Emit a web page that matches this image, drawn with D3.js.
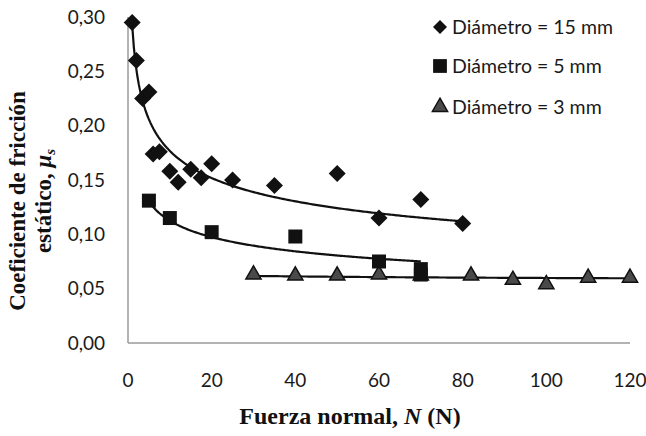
<!DOCTYPE html>
<html>
<head>
<meta charset="utf-8">
<script src="https://cdn.jsdelivr.net/npm/d3@7"></script>
<style>
  html, body { margin: 0; padding: 0; background: #fff; }
  svg { display: block; }
</style>
</head>
<body>
<div id="chart"></div>
<script>
// data
const seriesNames = ["Diámetro = 15 mm", "Diámetro = 5 mm", "Diámetro = 3 mm"];

const force15 = [1, 2, 3.5, 5, 6, 7.5, 10, 12, 15, 17.5, 20, 25, 35, 50, 60, 70, 80];
const mu15 = [0.295, 0.26, 0.225, 0.231, 0.174, 0.176, 0.158, 0.148, 0.16, 0.152, 0.165, 0.15, 0.145, 0.156, 0.115, 0.132, 0.11];

const force5 = [5, 10, 20, 40, 60, 70, 70];
const mu5 = [0.131, 0.115, 0.102, 0.098, 0.075, 0.068, 0.063];

const force3 = [30, 40, 50, 60, 70, 82, 92, 100, 110, 120];
const mu3 = [0.063, 0.062, 0.062, 0.063, 0.062, 0.062, 0.058, 0.054, 0.06, 0.06];

// power trendlines y = a * x^b (coefficients)
const trendA = [0.293, 0.1817, 0.0675];
const trendB = [-0.2195, -0.208, -0.0262];
const trendRange = [[1, 80], [5, 70], [30, 120]];

const xTicks = [0, 20, 40, 60, 80, 100, 120];
const yTicks = [0, 0.05, 0.10, 0.15, 0.20, 0.25, 0.30];

const width = 646;
const height = 436;

const svg = d3.select("#chart").append("svg")
  .attr("width", width)
  .attr("height", height);

const x = d3.scaleLinear().domain([0, 120]).range([128, 630]);
const y = d3.scaleLinear().domain([0, 0.30]).range([343, 17]);

const fmt = (v) => d3.format(".2f")(v).replace(".", ",");
const sans = "Lato, 'Open Sans', sans-serif";
const serif = "'Liberation Serif', 'Times New Roman', serif";

// axes lines (no ticks)
svg.append("line")
  .attr("x1", x(0)).attr("x2", x(0))
  .attr("y1", y(0.30)).attr("y2", y(0))
  .attr("stroke", "#9a9a9a").attr("stroke-width", 1.5);
svg.append("line")
  .attr("x1", x(0)).attr("x2", x(120))
  .attr("y1", y(0)).attr("y2", y(0))
  .attr("stroke", "#9a9a9a").attr("stroke-width", 1.5);

svg.append("g")
  .selectAll("text")
  .data(yTicks)
  .enter()
  .append("text")
  .attr("x", 105)
  .attr("y", (d) => y(d))
  .attr("dy", "0.35em")
  .attr("text-anchor", "end")
  .style("font-family", sans)
  .style("font-size", "19px")
  .style("fill", "#1a1a1a")
  .text(fmt);

svg.append("g")
  .selectAll("text")
  .data(xTicks)
  .enter()
  .append("text")
  .attr("x", (d) => x(d))
  .attr("y", 380)
  .attr("dy", "0.35em")
  .attr("text-anchor", "middle")
  .style("font-family", sans)
  .style("font-size", "19px")
  .style("fill", "#1a1a1a")
  .text((d) => d);

// axis titles
const xTitle = svg.append("text")
  .attr("x", 350)
  .attr("y", 424)
  .attr("text-anchor", "middle")
  .style("font-family", serif)
  .style("font-weight", "bold")
  .style("font-size", "24px")
  .style("fill", "#111");
xTitle.append("tspan").text("Fuerza normal, ");
xTitle.append("tspan").style("font-style", "italic").text("N");
xTitle.append("tspan").text(" (N)");

const yTitle = svg.append("g")
  .attr("transform", "translate(0,201) rotate(-90)")
  .style("font-family", serif)
  .style("font-weight", "bold")
  .style("font-size", "23px")
  .style("fill", "#111");
yTitle.append("text")
  .attr("x", 0).attr("y", 25)
  .attr("text-anchor", "middle")
  .text("Coeficiente de fricción");
const yt2 = yTitle.append("text")
  .attr("x", 0).attr("y", 51)
  .attr("text-anchor", "middle");
yt2.append("tspan").text("estático, ");
yt2.append("tspan").style("font-style", "italic").text("μ");
yt2.append("tspan").style("font-style", "italic").style("font-size", "15px").attr("dy", 4).text("s");

// marker shapes
function diamond(r) {
  return `M0,${-r}L${r},0L0,${r}L${-r},0Z`;
}
const squarePath = d3.symbol().type(d3.symbolSquare).size(196)();
const trianglePath = d3.symbol().type(d3.symbolTriangle).size(100)();

// trendlines
const line = d3.line().x((d) => x(d[0])).y((d) => y(d[1]));
trendRange.forEach((r, i) => {
  const pts = d3.range(0, 201).map((k) => {
    const xv = r[0] + (r[1] - r[0]) * k / 200;
    return [xv, trendA[i] * Math.pow(xv, trendB[i])];
  });
  svg.append("path")
    .attr("d", line(pts))
    .attr("fill", "none")
    .attr("stroke", "#111")
    .attr("stroke-width", 2.2);
});

// points
svg.append("g")
  .selectAll("path")
  .data(d3.zip(force3, mu3))
  .enter()
  .append("path")
  .attr("d", trianglePath)
  .attr("transform", (d) => `translate(${x(d[0])},${y(d[1])})`)
  .attr("fill", "#4a4a4a")
  .attr("stroke", "#111")
  .attr("stroke-width", 1.5);

svg.append("g")
  .selectAll("path")
  .data(d3.zip(force5, mu5))
  .enter()
  .append("path")
  .attr("d", squarePath)
  .attr("transform", (d) => `translate(${x(d[0])},${y(d[1])})`)
  .attr("fill", "#111");

svg.append("g")
  .selectAll("path")
  .data(d3.zip(force15, mu15))
  .enter()
  .append("path")
  .attr("d", diamond(8.5))
  .attr("transform", (d) => `translate(${x(d[0])},${y(d[1])})`)
  .attr("fill", "#111");

// legend
const legendY = [27, 66, 107];
const legendMarks = [
  { d: diamond(7), fill: "#111", stroke: "none" },
  { d: d3.symbol().type(d3.symbolSquare).size(190)(), fill: "#111", stroke: "none" },
  { d: trianglePath, fill: "#4a4a4a", stroke: "#111" }
];
seriesNames.forEach((name, i) => {
  const g = svg.append("g").attr("transform", `translate(440,${legendY[i]})`);
  g.append("path")
    .attr("d", legendMarks[i].d)
    .attr("fill", legendMarks[i].fill)
    .attr("stroke", legendMarks[i].stroke)
    .attr("stroke-width", 1.5);
  g.append("text")
    .attr("x", 12)
    .attr("y", 0)
    .attr("dy", "0.35em")
    .style("font-family", sans)
    .style("font-size", "19.5px")
    .style("fill", "#1a1a1a")
    .text(name);
});
</script>
</body>
</html>
